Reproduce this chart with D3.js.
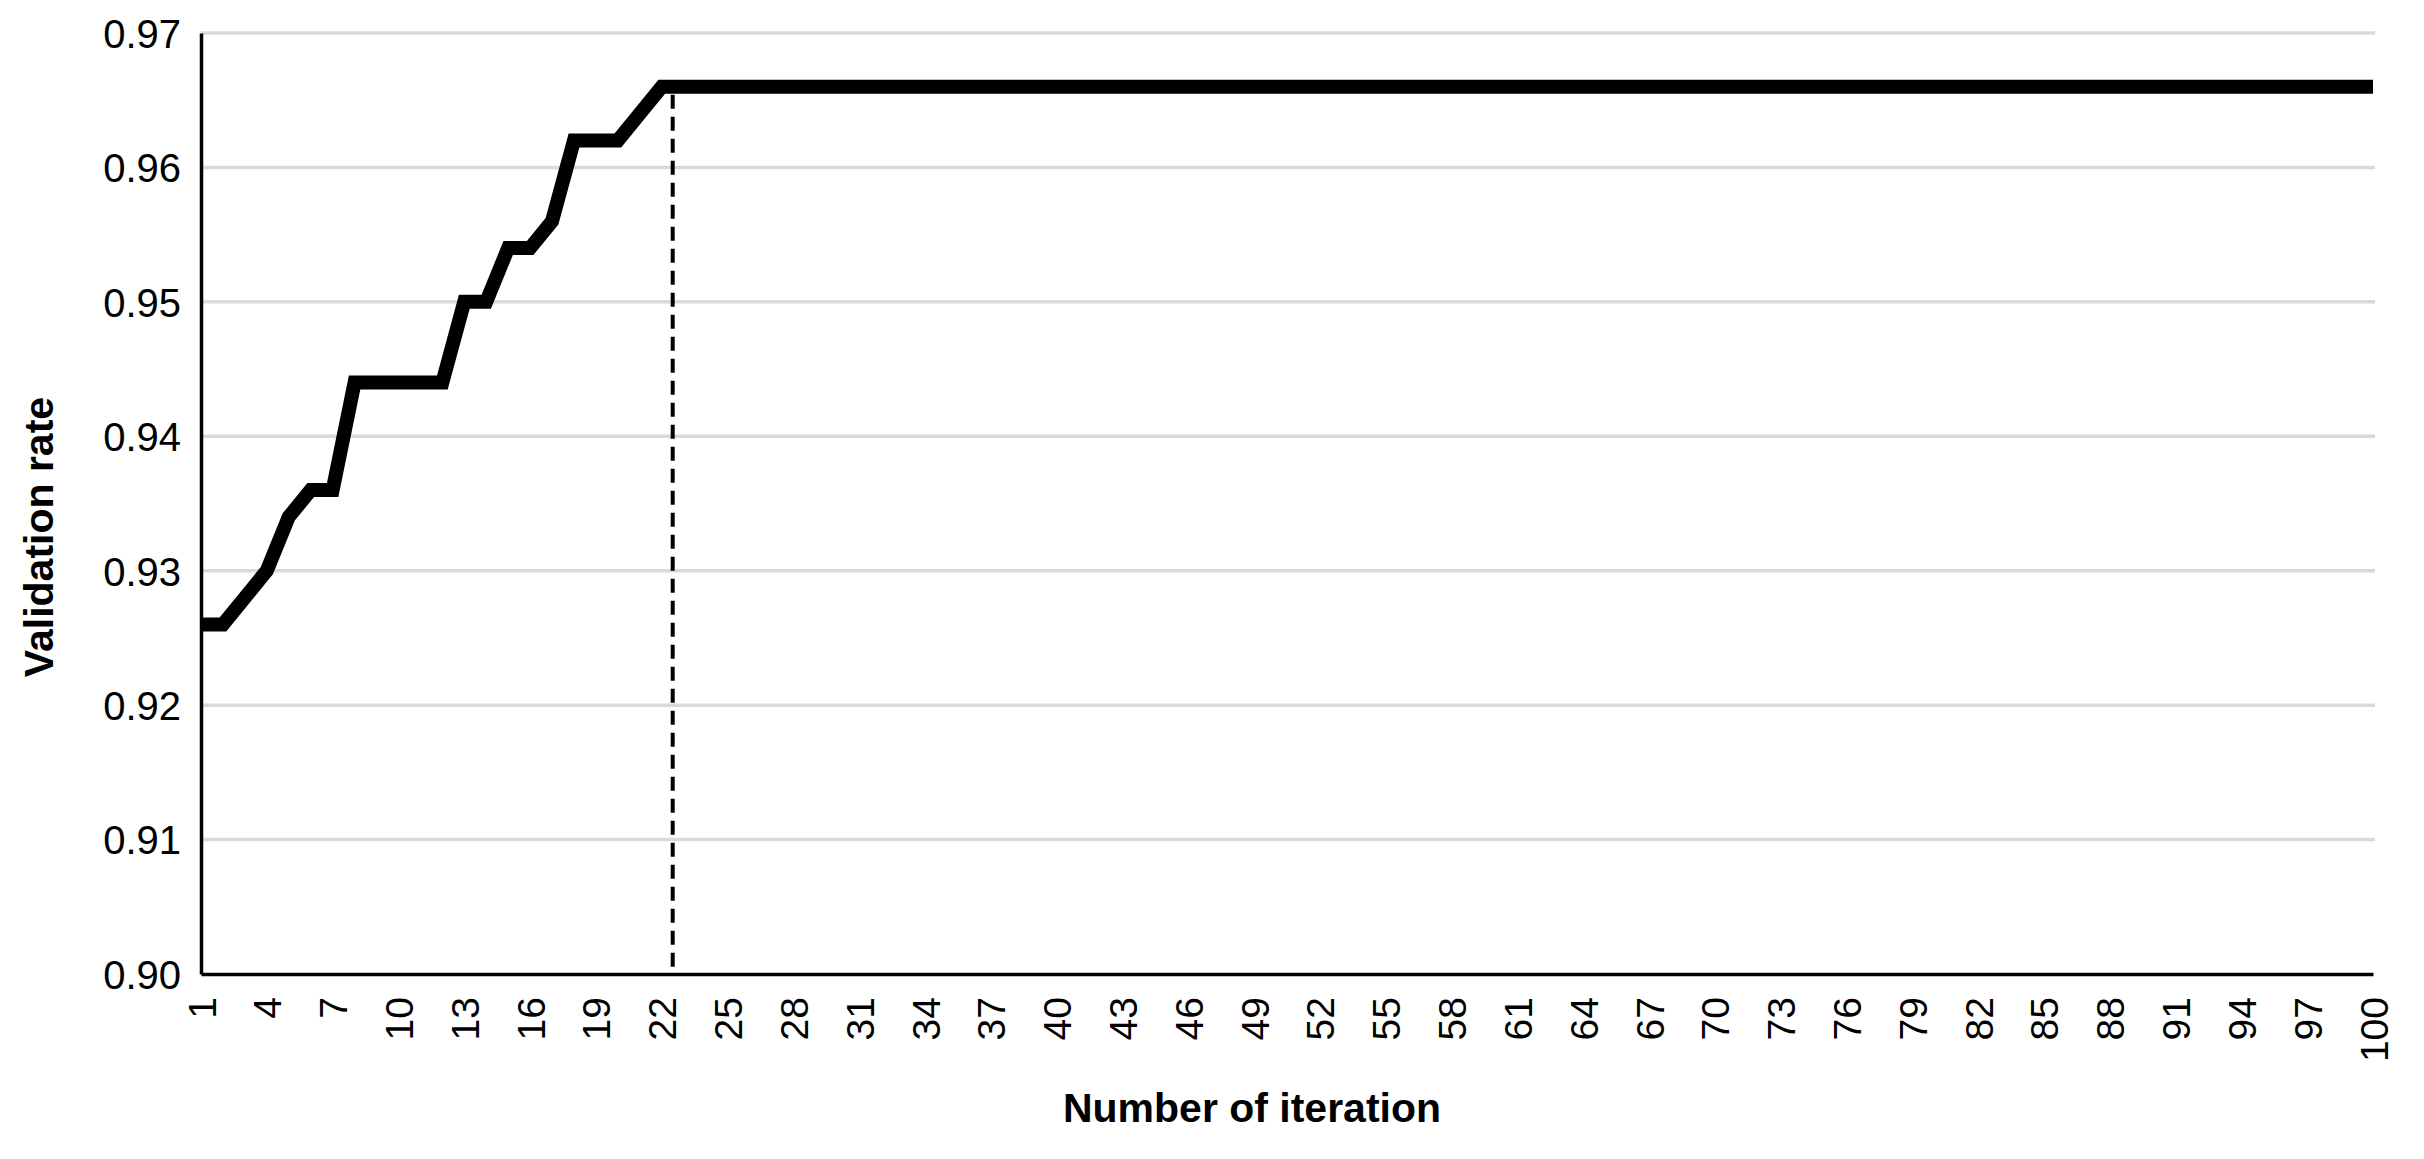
<!DOCTYPE html>
<html>
<head>
<meta charset="utf-8">
<script src="https://cdn.jsdelivr.net/npm/d3@7"></script>
<style>
  body { margin: 0; background: #fff; }
  text { font-family: "Liberation Sans", Arial, sans-serif; fill: #000; }
</style>
</head>
<body>
<script>
// data
var iterations = [1,2,3,4,5,6,7,8,9,10,11,12,13,14,15,16,17,18,19,20,
  21,22,23,24,25,26,27,28,29,30,31,32,33,34,35,36,37,38,39,40,
  41,42,43,44,45,46,47,48,49,50,51,52,53,54,55,56,57,58,59,60,
  61,62,63,64,65,66,67,68,69,70,71,72,73,74,75,76,77,78,79,80,
  81,82,83,84,85,86,87,88,89,90,91,92,93,94,95,96,97,98,99,100];

var validationRate = [0.926,0.926,0.928,0.930,0.934,0.936,0.936,0.944,0.944,0.944,
  0.944,0.944,0.950,0.950,0.954,0.954,0.956,0.962,0.962,0.962,
  0.964,0.966,0.966,0.966,0.966,0.966,0.966,0.966,0.966,0.966,
  0.966,0.966,0.966,0.966,0.966,0.966,0.966,0.966,0.966,0.966,
  0.966,0.966,0.966,0.966,0.966,0.966,0.966,0.966,0.966,0.966,
  0.966,0.966,0.966,0.966,0.966,0.966,0.966,0.966,0.966,0.966,
  0.966,0.966,0.966,0.966,0.966,0.966,0.966,0.966,0.966,0.966,
  0.966,0.966,0.966,0.966,0.966,0.966,0.966,0.966,0.966,0.966,
  0.966,0.966,0.966,0.966,0.966,0.966,0.966,0.966,0.966,0.966,
  0.966,0.966,0.966,0.966,0.966,0.966,0.966,0.966,0.966,0.966];

var xTickLabels = [1,4,7,10,13,16,19,22,25,28,31,34,37,40,43,46,49,52,55,58,
  61,64,67,70,73,76,79,82,85,88,91,94,97,100];
var yTickLabels = [0.90,0.91,0.92,0.93,0.94,0.95,0.96,0.97];

// iteration where the dashed marker stands
var markIteration = 22.5;

var margin = {top: 33, right: 51, bottom: 185, left: 201},
    width = 2424 - margin.left - margin.right,
    height = 1159 - margin.top - margin.bottom;

var svg = d3.select("body").append("svg")
    .attr("width", 2424)
    .attr("height", 1159)
  .append("g")
    .attr("transform", "translate(" + margin.left + "," + margin.top + ")");

var x = d3.scaleLinear().domain([1, 100]).range([0, width]);
var y = d3.scaleLinear().domain([0.90, 0.97]).range([height, 0]);

// gridlines
svg.append("g")
    .attr("class", "grid")
    .selectAll("line")
    .data(yTickLabels.slice(1))
  .enter().append("line")
    .attr("x1", 0)
    .attr("x2", width + 2)
    .attr("y1", function(d) { return y(d); })
    .attr("y2", function(d) { return y(d); })
    .attr("stroke", "#d9d9d9")
    .attr("stroke-width", 3.5);

// y axis
var yAxis = svg.append("g")
    .call(d3.axisLeft(y).tickValues(yTickLabels).tickSize(0).tickPadding(20)
      .tickFormat(d3.format(".2f")));
yAxis.select(".domain").attr("stroke", "#000").attr("stroke-width", 3.5);
yAxis.selectAll("text")
    .style("font-size", "40px")
    .attr("dy", "0.36em");

// x axis
var xAxis = svg.append("g")
    .attr("transform", "translate(0," + height + ")")
    .call(d3.axisBottom(x).tickValues(xTickLabels).tickSize(0).tickFormat(d3.format("d")));
xAxis.select(".domain").attr("stroke", "#000").attr("stroke-width", 3.5);
xAxis.selectAll("text")
    .style("font-size", "39px")
    .attr("text-anchor", "end")
    .attr("transform", "rotate(-90)")
    .attr("x", -23)
    .attr("y", 0)
    .attr("dy", "0.36em");

// dashed marker
svg.append("line")
    .attr("x1", x(markIteration))
    .attr("x2", x(markIteration))
    .attr("y1", y(0.966) + 8)
    .attr("y2", height)
    .attr("stroke", "#000")
    .attr("stroke-width", 4)
    .attr("stroke-dasharray", "14,8");

// series line
var line = d3.line()
    .x(function(d, i) { return x(iterations[i]); })
    .y(function(d) { return y(d); });

svg.append("path")
    .datum(validationRate)
    .attr("fill", "none")
    .attr("stroke", "#000")
    .attr("stroke-width", 14)
    .attr("stroke-linejoin", "miter")
    .attr("d", line);

// axis titles
svg.append("text")
    .attr("x", 1252 - margin.left)
    .attr("y", 1122 - margin.top)
    .attr("text-anchor", "middle")
    .style("font-size", "41px")
    .style("font-weight", "bold")
    .text("Number of iteration");

svg.append("text")
    .attr("transform", "translate(" + (53 - margin.left) + "," + (537 - margin.top) + ") rotate(-90)")
    .attr("text-anchor", "middle")
    .style("font-size", "41px")
    .style("font-weight", "bold")
    .text("Validation rate");
</script>
</body>
</html>
